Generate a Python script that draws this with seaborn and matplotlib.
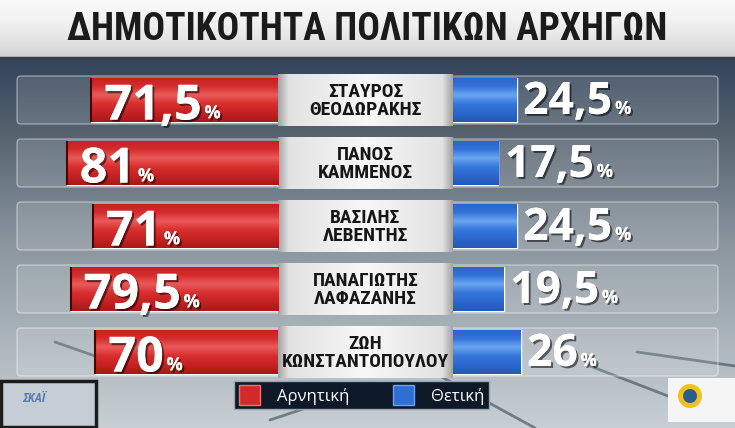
import matplotlib.pyplot as plt
import matplotlib.patheffects as pe
from matplotlib.colors import LinearSegmentedColormap
from matplotlib.patches import FancyBboxPatch, Rectangle, Patch, Circle
import seaborn as sns
import numpy as np
import pandas as pd

names = ["ΣΤΑΥΡΟΣ\nΘΕΟΔΩΡΑΚΗΣ", "ΠΑΝΟΣ\nΚΑΜΜΕΝΟΣ", "ΒΑΣΙΛΗΣ\nΛΕΒΕΝΤΗΣ",
         "ΠΑΝΑΓΙΩΤΗΣ\nΛΑΦΑΖΑΝΗΣ", "ΖΩΗ\nΚΩΝΣΤΑΝΤΟΠΟΥΛΟΥ"]
negative = [71.5, 81, 71, 79.5, 70]
positive = [24.5, 17.5, 24.5, 19.5, 26]
legend_labels = ["Αρνητική", "Θετική"]
title = "ΔΗΜΟΤΙΚΟΤΗΤΑ ΠΟΛΙΤΙΚΩΝ ΑΡΧΗΓΩΝ"

sns.set_theme(style="white")
NARROW = ["Roboto Condensed", "Roboto", "DejaVu Sans"]
ROUND = ["Open Sans", "DejaVu Sans"]
plt.rcParams["font.family"] = NARROW

RED = "#d22a2a"
BLUE = "#2f6fd4"
W, H = 735, 428
ROW0, PITCH = 100, 63          # pixel centre of first row, row pitch
TRACK_L, BOX_L, BOX_R, TRACK_R = 17, 278, 453, 718

fig = plt.figure(figsize=(7.35, 4.28), dpi=100)
renderer = fig.canvas.get_renderer()


def fit_width(txt, max_px):
    # shrink a text until it fits in max_px
    w = txt.get_window_extent(renderer).width
    if w > max_px:
        txt.set_fontsize(txt.get_fontsize() * max_px / w)


# background layer in pixel units
bg = fig.add_axes([0, 0, 1, 1])
bg.set_xlim(0, W)
bg.set_ylim(H, 0)
bg.axis("off")

grad = np.linspace(0, 1, 256).reshape(-1, 1)
bg_cmap = LinearSegmentedColormap.from_list(
    "bg", [(0, "#33435a"), (0.2, "#55636f"), (0.5, "#8a959e"), (0.78, "#aeb7be"), (1, "#c8cfd4")])
bg.imshow(grad, cmap=bg_cmap, extent=(0, W, H, 58), aspect="auto", zorder=0)

band_cmap = LinearSegmentedColormap.from_list("band", ["#fafafa", "#f2f2f2", "#e6e6e6", "#d2d2d2"])
bg.imshow(grad, cmap=band_cmap, extent=(0, W, 57, 0), aspect="auto", zorder=1)
bg.plot([0, W], [58, 58], color="#34404c", lw=2.5, zorder=2)
t = bg.text(W / 2, 29, title, ha="center", va="center", fontsize=27, fontweight="bold",
            color="#1b1b1b", zorder=3)
fit_width(t, 612)

# faint diagonal streaks of the studio backdrop
for (x0, y0, x1, y1) in [(440, 376, 535, 428), (590, 366, 668, 396), (637, 352, 735, 366),
                         (55, 342, 95, 356), (270, 420, 330, 400)]:
    bg.plot([x0, x1], [y0, y1], color="#3c4852", lw=2, alpha=0.6, zorder=1)

box_cmap = LinearSegmentedColormap.from_list(
    "box", [(0, "#a4a4a4"), (0.06, "#e2e2e2"), (0.5, "#f8f8f8"), (0.94, "#e2e2e2"), (1, "#a4a4a4")])
for i, name in enumerate(names):
    c = ROW0 + PITCH * i
    track = FancyBboxPatch((TRACK_L, c - 24), TRACK_R - TRACK_L, 48,
                           boxstyle="round,pad=0,rounding_size=4",
                           facecolor=(1, 1, 1, 0.13), edgecolor=(1, 1, 1, 0.4), lw=1, zorder=2)
    bg.add_patch(track)
    box = Rectangle((BOX_L, c - 26), BOX_R - BOX_L, 52, facecolor="#eeeeee", lw=0, zorder=3)
    bg.add_patch(box)
    im = bg.imshow(grad.T, cmap=box_cmap, extent=(BOX_L, BOX_R, c + 26, c - 26),
                   aspect="auto", zorder=3.1)
    im.set_clip_path(box)
    nt = bg.text((BOX_L + BOX_R) / 2, c + 1, name, ha="center", va="center", fontsize=14,
                 fontweight="bold", color="#161616", linespacing=0.95, zorder=4)
    fit_width(nt, 168)

# bottom logos
bg.add_patch(Rectangle((1.5, 381), 95, 45.5, facecolor="#c5ced6", edgecolor="#1c1c1c", lw=2.5, zorder=3))
bg.text(22, 398, "ΣΚΑΪ", fontsize=9, fontweight="bold", style="italic", color="#5a7fae",
        ha="left", va="center", zorder=4)
bg.add_patch(Rectangle((668, 378), 67, 44, facecolor="#f5f5f5", lw=0, zorder=3))
bg.add_patch(Circle((690, 396), 12, facecolor="#f2c21c", lw=0, zorder=4))
bg.add_patch(Circle((690, 396), 7, facecolor="#2a5c8c", lw=0, zorder=5))
bg.set_xlim(0, W)
bg.set_ylim(H, 0)

df = pd.DataFrame({"name": names, "neg": negative, "pos": positive})
df["neg_x"] = -df["neg"]

axL = fig.add_axes([TRACK_L / W, 0, (BOX_L - TRACK_L) / W, 1])
axR = fig.add_axes([BOX_R / W, 0, (TRACK_R - BOX_R) / W, 1])
sns.barplot(data=df, x="neg_x", y="name", orient="h", color=RED, width=0.7,
            saturation=1, ax=axL)
sns.barplot(data=df, x="pos", y="name", orient="h", color=BLUE, width=0.7,
            saturation=1, ax=axR)

red_cmap = LinearSegmentedColormap.from_list(
    "r", ["#c42020", "#d42c2c", "#ea5a5a", "#d82e2e", "#c42222", "#a81818"])
blue_cmap = LinearSegmentedColormap.from_list(
    "b", ["#2a64c8", "#3272d8", "#6aa6f2", "#3476da", "#2c66cc", "#2458b4"])

top_c = (0 - ROW0) / PITCH
bot_c = (H - ROW0) / PITCH
shadow = [pe.withSimplePatchShadow(offset=(1.5, -1.5), shadow_rgbFace="black", alpha=0.55),
          pe.Normal()]

for ax, cmap in [(axL, red_cmap), (axR, blue_cmap)]:
    for p in ax.patches:
        x0, y0, w, h = p.get_x(), p.get_y(), p.get_width(), p.get_height()
        im = ax.imshow(grad, cmap=cmap, aspect="auto",
                       extent=(min(x0, x0 + w), max(x0, x0 + w), y0 + h, y0), zorder=3)
        im.set_clip_path(p)

axL.vlines(df["neg_x"], np.arange(len(df)) - 0.35, np.arange(len(df)) + 0.35,
           color="#3a0c0c", lw=1.5, zorder=4)

for i, v in enumerate(negative):
    t = axL.text(-v + 5, i + 0.31, f"{v:g}".replace(".", ","), ha="left", va="baseline",
                 fontsize=35, fontweight="bold", color="white", family=ROUND,
                 path_effects=shadow, zorder=5)
    axL.annotate("%", xy=(1, i + 0.29), xycoords=(t, "data"), xytext=(2, 0),
                 textcoords="offset points", ha="left", va="baseline", fontsize=13,
                 fontweight="bold", color="white", family=ROUND,
                 path_effects=shadow, zorder=5)

for i, v in enumerate(positive):
    t = axR.text(v + 2.5, i + 0.22, f"{v:g}".replace(".", ","), ha="left", va="baseline",
                 fontsize=32, fontweight="bold", color="white", family=ROUND,
                 path_effects=shadow, zorder=5)
    axR.annotate("%", xy=(1, i + 0.22), xycoords=(t, "data"), xytext=(2, 0),
                 textcoords="offset points", ha="left", va="baseline", fontsize=13,
                 fontweight="bold", color="white", family=ROUND,
                 path_effects=shadow, zorder=5)

axL.set_xlim(-100, 0)
axR.set_xlim(0, 102)
for ax in (axL, axR):
    ax.set_ylim(bot_c, top_c)
    ax.patch.set_visible(False)
    ax.axis("off")

handles = [Patch(facecolor=RED, edgecolor="#f07070", lw=1, label=legend_labels[0]),
           Patch(facecolor=BLUE, edgecolor="#70a0f0", lw=1, label=legend_labels[1])]
fig.legend(handles=handles, loc="center", bbox_to_anchor=(361.5 / W, 1 - 395 / H), ncol=2,
           frameon=True, fancybox=False, facecolor="#0d1828", edgecolor="#9aa4ae",
           framealpha=1, labelcolor="white", prop={"family": ROUND, "size": 12},
           handlelength=1.3, handleheight=1.4, columnspacing=2.6, handletextpad=1.0,
           borderpad=0.25, borderaxespad=0)

fig.savefig("out.png", dpi=100)
